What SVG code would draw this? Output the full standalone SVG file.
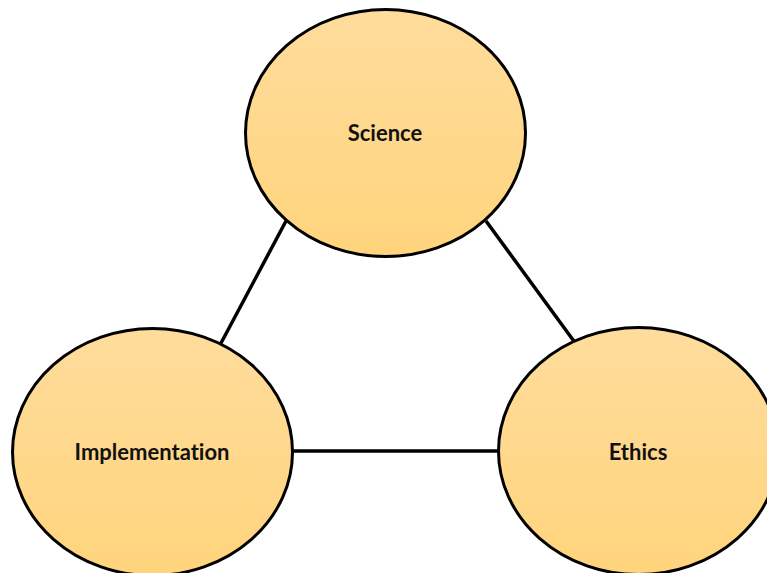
<svg xmlns="http://www.w3.org/2000/svg" width="767" height="573" viewBox="0 0 767 573">
<defs>
<linearGradient id="g" x1="0" y1="0" x2="0" y2="1">
<stop offset="0" stop-color="#FEDC9C"/>
<stop offset="1" stop-color="#FFD47C"/>
</linearGradient>
<style>
.n{fill:url(#g);stroke:#000;stroke-width:3}
.t{font-family:Lato,"Liberation Sans",sans-serif;font-weight:bold;font-size:22px;fill:#111;text-anchor:middle;dominant-baseline:central;font-variant-ligatures:none}
.c{stroke:#000;stroke-width:3.5;fill:none}
</style>
</defs>
<rect width="767" height="573" fill="#fff"/>
<g id="connectors">
<line class="c" x1="286" y1="221" x2="220" y2="345"/>
<line class="c" x1="486" y1="221" x2="576" y2="344"/>
<line class="c" x1="293" y1="451" x2="498" y2="451"/>
</g>
<g id="science">
<ellipse class="n" cx="385.5" cy="133" rx="140" ry="123.5"/>
<text class="t" x="385" y="132">Science</text>
</g>
<g id="implementation">
<ellipse class="n" cx="152.5" cy="452" rx="140" ry="123.5"/>
<text class="t" x="152" y="451">Implementation</text>
</g>
<g id="ethics">
<ellipse class="n" cx="638.5" cy="451" rx="140" ry="123.5"/>
<text class="t" x="638" y="451">Ethics</text>
</g>
</svg>
